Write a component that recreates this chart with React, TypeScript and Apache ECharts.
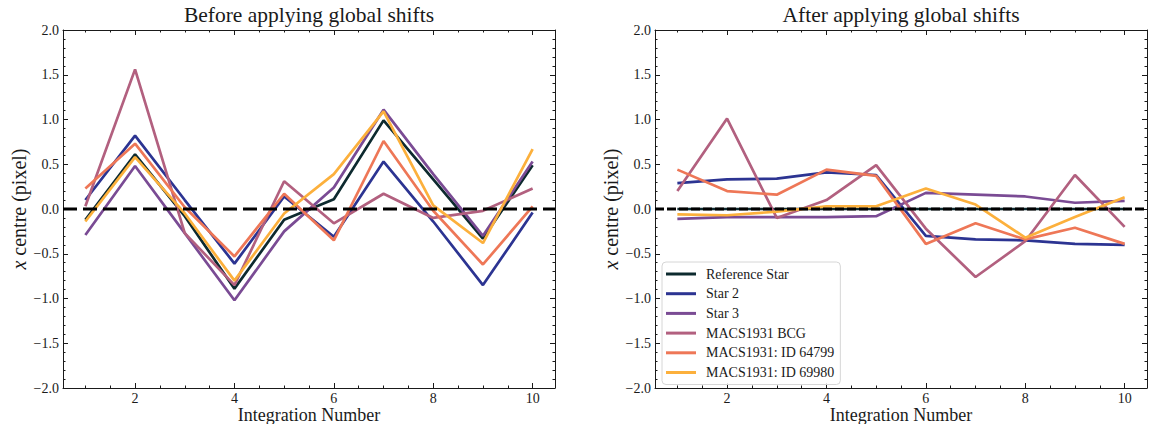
import React, { useEffect, useRef } from "react";
import * as echarts from "echarts";

const integrations = [1, 2, 3, 4, 5, 6, 7, 8, 9, 10];
const seriesNames = [
  "Reference Star",
  "Star 2",
  "Star 3",
  "MACS1931 BCG",
  "MACS1931: ID 64799",
  "MACS1931: ID 69980",
];
const colors = ["#0d2a2f", "#2c3492", "#7a4b94", "#b2607f", "#ee7757", "#fcb03c"];

// Before applying global shifts
const beforeRef = [-0.12, 0.61, -0.08, -0.89, -0.12, 0.11, 0.99, 0.33, -0.33, 0.49];
const beforeStar2 = [0.1, 0.82, 0.1, -0.61, 0.14, -0.31, 0.53, -0.14, -0.85, -0.04];
const beforeStar3 = [-0.29, 0.48, -0.27, -1.02, -0.25, 0.24, 1.11, 0.39, -0.3, 0.53];
const beforeBCG = [0.03, 1.56, -0.27, -0.85, 0.31, -0.16, 0.17, -0.1, -0.02, 0.23];
const before64799 = [0.23, 0.73, 0.02, -0.53, 0.17, -0.35, 0.76, -0.02, -0.62, 0.03];
const before69980 = [-0.14, 0.58, -0.05, -0.8, -0.05, 0.39, 1.09, 0.04, -0.38, 0.67];

// After applying global shifts
const afterRef = [0, 0, 0, 0, 0, 0, 0, 0, 0, 0];
const afterStar2 = [0.29, 0.33, 0.34, 0.41, 0.38, -0.3, -0.34, -0.35, -0.39, -0.4];
const afterStar3 = [-0.11, -0.09, -0.09, -0.09, -0.08, 0.18, 0.16, 0.14, 0.07, 0.09];
const afterBCG = [0.2, 1.01, -0.1, 0.1, 0.49, -0.22, -0.76, -0.36, 0.38, -0.2];
const after64799 = [0.44, 0.2, 0.16, 0.44, 0.37, -0.39, -0.16, -0.34, -0.21, -0.39];
const after69980 = [-0.06, -0.07, -0.03, 0.03, 0.03, 0.23, 0.05, -0.32, -0.09, 0.13];

const xMajorTicks = [2, 4, 6, 8, 10];
const xMinorTicks = [1, 1.5, 2.5, 3, 3.5, 4.5, 5, 5.5, 6.5, 7, 7.5, 8.5, 9, 9.5];
const titles = ["Before applying global shifts", "After applying global shifts"];
const xName = "Integration Number";
const yName = "{i|x}{r| centre (pixel)}";

const X_MIN = 0.55;
const X_MAX = 10.45;
const Y_MIN = -2;
const Y_MAX = 2;

const FONT = "Liberation Serif";
const INK = "#1a1a1a";
const LEGEND_ICON = "path://M0,0 L30,0 L30,3 L0,3 Z";

const fmtY = (v: number) => (v < 0 ? "\u2212" + Math.abs(v).toFixed(1) : v.toFixed(1));

function xAxes(gridIndex: number) {
  const base = {
    type: "value",
    gridIndex,
    min: X_MIN,
    max: X_MAX,
    splitLine: { show: false },
  };
  return [
    {
      ...base,
      position: "bottom",
      name: xName,
      nameLocation: "middle",
      nameGap: 18,
      nameMoveOverlap: false,
      nameTextStyle: { fontFamily: FONT, fontSize: 18, lineHeight: 18, color: INK },
      axisLine: { show: true, onZero: false, lineStyle: { color: INK, width: 1 } },
      axisTick: { show: true, inside: true, length: 5, customValues: xMajorTicks, lineStyle: { color: INK } },
      axisLabel: {
        show: true,
        customValues: xMajorTicks,
        margin: 3,
        fontFamily: FONT,
        fontSize: 14,
        lineHeight: 14,
        color: INK,
      },
    },
    {
      ...base,
      position: "bottom",
      axisLine: { show: false, onZero: false },
      axisTick: { show: true, inside: true, length: 2.5, customValues: xMinorTicks, lineStyle: { color: INK } },
      axisLabel: { show: false },
    },
    {
      ...base,
      position: "top",
      axisLine: { show: true, onZero: false, lineStyle: { color: INK, width: 1 } },
      axisTick: { show: true, inside: true, length: 5, customValues: xMajorTicks, lineStyle: { color: INK } },
      axisLabel: { show: false },
    },
    {
      ...base,
      position: "top",
      axisLine: { show: false, onZero: false },
      axisTick: { show: true, inside: true, length: 2.5, customValues: xMinorTicks, lineStyle: { color: INK } },
      axisLabel: { show: false },
    },
  ];
}

function yAxes(gridIndex: number) {
  const base = {
    type: "value",
    gridIndex,
    min: Y_MIN,
    max: Y_MAX,
    interval: 0.5,
    splitLine: { show: false },
    minorSplitLine: { show: false },
    axisTick: { show: true, inside: true, length: 5, lineStyle: { color: INK } },
    minorTick: { show: true, splitNumber: 5, length: 2.5, lineStyle: { color: INK } },
  };
  return [
    {
      ...base,
      position: "left",
      name: yName,
      nameLocation: "middle",
      nameGap: 34,
      nameMoveOverlap: false,
      nameTextStyle: {
        fontFamily: FONT,
        fontSize: 20,
        color: INK,
        rich: {
          i: { fontFamily: FONT, fontSize: 20, fontStyle: "italic", color: INK },
          r: { fontFamily: FONT, fontSize: 20, color: INK },
        },
      },
      axisLine: { show: true, onZero: false, lineStyle: { color: INK, width: 1 } },
      axisLabel: { show: true, margin: 4, fontFamily: FONT, fontSize: 14, color: INK, formatter: fmtY },
    },
    {
      ...base,
      position: "right",
      axisLine: { show: true, onZero: false, lineStyle: { color: INK, width: 1 } },
      axisLabel: { show: false },
    },
  ];
}

function panelSeries(data: number[][], xAxisIndex: number, yAxisIndex: number, dash: number[], dashWidth: number) {
  const out: any[] = data.map((vals, i) => ({
    type: "line",
    name: seriesNames[i],
    xAxisIndex,
    yAxisIndex,
    data: integrations.map((x, k) => [x, vals[k]]),
    symbol: "none",
    showSymbol: false,
    color: colors[i],
    itemStyle: { color: colors[i] },
    lineStyle: { color: colors[i], width: 2.7 },
    z: 2,
    silent: true,
  }));
  out.push({
    type: "line",
    name: "zero",
    xAxisIndex,
    yAxisIndex,
    data: [
      [X_MIN, 0],
      [X_MAX, 0],
    ],
    symbol: "none",
    showSymbol: false,
    lineStyle: { color: "#000", width: dashWidth, type: dash },
    z: 5,
    silent: true,
  });
  return out;
}

export default function App() {
  const ref = useRef<HTMLDivElement>(null);
  useEffect(() => {
    if (!ref.current) return;
    const chart = echarts.init(ref.current, undefined, { renderer: "svg" });
    const option: any = {
      animation: false,
      backgroundColor: "#fff",
      textStyle: { fontFamily: FONT, color: INK },
      grid: [
        { left: 63, top: 30, width: 492, height: 358, outerBoundsMode: "none", containLabel: false },
        { left: 655, top: 30, width: 492, height: 358, outerBoundsMode: "none", containLabel: false },
      ],
      xAxis: [...xAxes(0), ...xAxes(1)],
      yAxis: [...yAxes(0), ...yAxes(1)],
      legend: {
        show: true,
        orient: "vertical",
        left: 662,
        top: 262,
        itemWidth: 30,
        itemHeight: 14,
        itemGap: 5.7,
        icon: LEGEND_ICON,
        padding: [5, 6, 5, 4],
        backgroundColor: "rgba(255,255,255,0.85)",
        borderColor: "#d6d6d6",
        borderWidth: 1,
        borderRadius: 4,
        textStyle: { fontFamily: FONT, fontSize: 14, color: INK, padding: [0, 0, 0, 5] },
        data: seriesNames,
      },
      graphic: [
        {
          type: "text",
          x: 309,
          y: 4,
          style: { text: titles[0], fontFamily: FONT, fontSize: 21.5, fill: INK, align: "center", verticalAlign: "top" },
        },
        {
          type: "text",
          x: 901,
          y: 4,
          style: { text: titles[1], fontFamily: FONT, fontSize: 21.5, fill: INK, align: "center", verticalAlign: "top" },
        },
      ],
      series: [
        ...panelSeries([beforeRef, beforeStar2, beforeStar3, beforeBCG, before64799, before69980], 0, 0, [14, 6], 3),
        ...panelSeries([afterRef, afterStar2, afterStar3, afterBCG, after64799, after69980], 4, 2, [9, 3], 3),
      ],
    };
    chart.setOption(option);
    return () => chart.dispose();
  }, []);
  return <div ref={ref} style={{ position: "fixed", left: 0, top: 0, width: 1149, height: 424 }} />;
}
